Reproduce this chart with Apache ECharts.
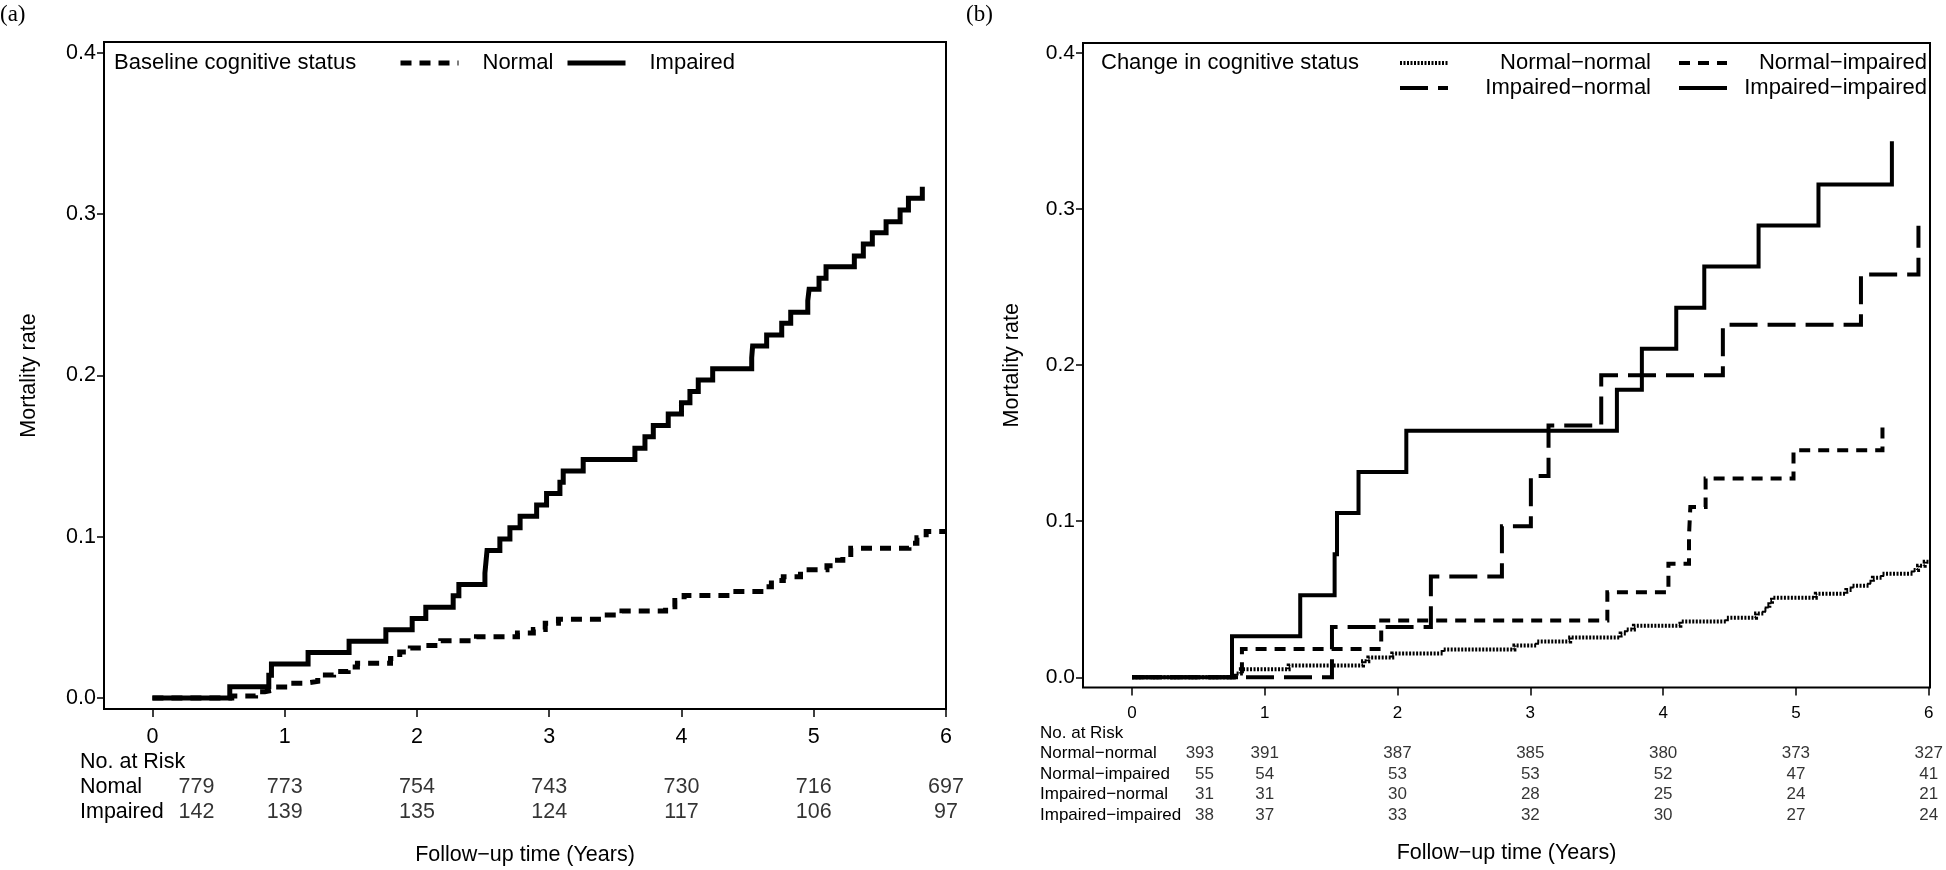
<!DOCTYPE html>
<html>
<head>
<meta charset="utf-8">
<script src="https://cdn.jsdelivr.net/npm/echarts@6/dist/echarts.min.js"></script>
<style>html,body{margin:0;padding:0;background:#fff;}#c{width:1946px;height:870px;}</style>
</head>
<body>
<div id="c"></div>
<script>
// ---------- DATA ----------
const xTicks = [0, 1, 2, 3, 4, 5, 6];
const yTicks = [0, 0.1, 0.2, 0.3, 0.4];

// Panel (a): baseline cognitive status
const aNormalT = [0, 0.60, 0.78, 0.85, 0.92, 1.02, 1.15, 1.25, 1.37, 1.48, 1.55, 1.80, 1.87, 1.95, 2.05, 2.18, 2.45, 2.76, 2.88, 2.97, 3.07, 3.40, 3.55, 3.88, 3.95, 4.02, 4.38, 4.62, 4.68, 4.77, 4.90, 5.10, 5.18, 5.22, 5.28, 5.72, 5.78, 5.85, 6.0];
const aNormalV = [0, 0.0013, 0.0039, 0.0051, 0.0068, 0.0092, 0.0103, 0.0142, 0.0165, 0.0193, 0.0215, 0.0245, 0.0285, 0.0310, 0.0325, 0.0355, 0.0380, 0.0403, 0.0425, 0.0463, 0.0489, 0.0515, 0.0540, 0.0566, 0.0605, 0.0635, 0.0660, 0.0690, 0.0728, 0.0752, 0.0795, 0.0820, 0.0855, 0.0890, 0.0929, 0.0960, 0.0994, 0.1033, 0.1033];
const aImpairedT = [0, 0.585, 0.88, 0.90, 1.177, 1.487, 1.765, 1.964, 2.067, 2.274, 2.317, 2.514, 2.522, 2.53, 2.627, 2.703, 2.78, 2.905, 2.98, 3.081, 3.106, 3.257, 3.648, 3.724, 3.787, 3.90, 4.00, 4.064, 4.127, 4.236, 4.531, 4.538, 4.644, 4.758, 4.826, 4.955, 4.965, 5.04, 5.093, 5.307, 5.375, 5.443, 5.547, 5.653, 5.716, 5.821];
const aImpairedV = [0, 0.0070, 0.0141, 0.0211, 0.0282, 0.0352, 0.0423, 0.0493, 0.0563, 0.0634, 0.0704, 0.0775, 0.0845, 0.0915, 0.0986, 0.1056, 0.1127, 0.1197, 0.1268, 0.1338, 0.1408, 0.1479, 0.1549, 0.1620, 0.1690, 0.1761, 0.1831, 0.1901, 0.1972, 0.2042, 0.2110, 0.2183, 0.2251, 0.2324, 0.2392, 0.2464, 0.2535, 0.2603, 0.2675, 0.2741, 0.2816, 0.2886, 0.2954, 0.3026, 0.3099, 0.3171];

// Panel (b): change in cognitive status
const bNNT = [0, 0.78, 0.82, 1.18, 1.74, 1.78, 1.96, 2.34, 2.88, 3.05, 3.30, 3.68, 3.72, 3.78, 4.13, 4.48, 4.70, 4.76, 4.78, 4.80, 4.82, 5.15, 5.38, 5.42, 5.55, 5.58, 5.65, 5.88, 5.92, 5.97, 6.0];
const bNNV = [0, 0.0025, 0.0051, 0.0076, 0.0102, 0.0127, 0.0153, 0.0178, 0.0204, 0.0229, 0.0255, 0.0280, 0.0306, 0.0331, 0.0357, 0.0382, 0.0408, 0.0433, 0.0459, 0.0484, 0.0510, 0.0535, 0.0560, 0.0586, 0.0612, 0.0637, 0.0663, 0.0688, 0.0714, 0.0740, 0.0740];
const bNIT = [0, 0.828, 1.877, 3.58, 4.04, 4.195, 4.205, 4.32, 4.982, 5.652];
const bNIV = [0, 0.0182, 0.0364, 0.0545, 0.0727, 0.0909, 0.1091, 0.1273, 0.1455, 0.1606];
const bINT = [0, 1.506, 2.251, 2.786, 3.004, 3.137, 3.534, 4.45, 5.49, 5.923];
const bINV = [0, 0.0323, 0.0645, 0.0968, 0.1290, 0.1613, 0.1935, 0.2258, 0.2581, 0.2893];
const bIIT = [0, 0.753, 1.267, 1.526, 1.544, 1.706, 2.066, 3.652, 3.84, 4.099, 4.31, 4.719, 5.17, 5.723];
const bIIV = [0, 0.0263, 0.0526, 0.0789, 0.1053, 0.1316, 0.1579, 0.1842, 0.2105, 0.2368, 0.2632, 0.2895, 0.3158, 0.3435];

// Numbers at risk
const riskTimes = [0, 1, 2, 3, 4, 5, 6];
const riskHeader = 'No. at Risk';
const aRowNames = ['Nomal', 'Impaired'];
const aRisk = [[779, 773, 754, 743, 730, 716, 697], [142, 139, 135, 124, 117, 106, 97]];
const bRowNames = ['Normal\u2212normal', 'Normal\u2212impaired', 'Impaired\u2212normal', 'Impaired\u2212impaired'];
const bRisk = [[393, 391, 387, 385, 380, 373, 327], [55, 54, 53, 53, 52, 47, 41], [31, 31, 30, 28, 25, 24, 21], [38, 37, 33, 32, 30, 27, 24]];

const aSeriesNames = ['Normal', 'Impaired'];
const xTitle = 'Follow\u2212up time (Years)';
const yTitle = 'Mortality rate';

// ---------- BUILD ----------
const FONT = '"Liberation Sans", Arial, Helvetica, sans-serif';
const zip = (t, v) => t.map((x, i) => [x, v[i]]);

const styleA = { normal: { width: 5, type: [11, 8] }, impaired: { width: 5, type: 'solid' } };
const styleB = [
  { width: 4, type: [2, 1.5] },
  { width: 4, type: [11, 8] },
  { width: 4, type: [28, 10] },
  { width: 4, type: 'solid' }
];

function riskSeries(xi, yi, rows, names, fs, firstOffset) {
  const first = [], rest = [];
  rows.forEach((r, ri) => r.forEach((n, ci) => {
    const pt = [riskTimes[ci], names[ri], n];
    (ci === 0 ? first : rest).push(pt);
  }));
  const base = {
    type: 'scatter', xAxisIndex: xi, yAxisIndex: yi, symbolSize: 1, silent: true,
    itemStyle: { color: 'rgba(0,0,0,0)' }
  };
  return [
    Object.assign({}, base, { name: 'risk0_' + xi, data: first,
      label: { show: true, position: 'inside', align: 'right', offset: [firstOffset, 0], formatter: p => p.value[2], color: '#000', fontSize: fs, fontFamily: FONT } }),
    Object.assign({}, base, { name: 'risk_' + xi, data: rest,
      label: { show: true, position: 'inside', align: 'center', formatter: p => p.value[2], color: '#000', fontSize: fs, fontFamily: FONT } })
  ];
}

function mainX(gi, min, max, fs, nameGap) {
  return {
    gridIndex: gi, type: 'value', min: min, max: max,
    axisLine: { show: false, onZero: false },
    axisTick: { show: true, customValues: xTicks, length: 8, lineStyle: { color: '#000', width: 1.5 } },
    axisLabel: { show: true, customValues: xTicks, margin: 17, color: '#000', fontSize: fs, fontFamily: FONT },
    splitLine: { show: false },
    name: xTitle, nameLocation: 'middle', nameGap: nameGap,
    nameTextStyle: { color: '#000', fontSize: 21.5, fontFamily: FONT }
  };
}
function hiddenX(gi, min, max) {
  return { gridIndex: gi, type: 'value', min: min, max: max, show: false, axisLine: { onZero: false } };
}
function mainY(gi, min, max, fs, nameGap) {
  return {
    gridIndex: gi, type: 'value', min: min, max: max,
    axisLine: { show: false, onZero: false },
    axisTick: { show: true, customValues: yTicks, length: 7, lineStyle: { color: '#000', width: 1.5 } },
    axisLabel: { show: true, customValues: yTicks, margin: 8, color: '#000', fontSize: fs, fontFamily: FONT, formatter: v => v.toFixed(1) },
    splitLine: { show: false },
    name: yTitle, nameLocation: 'middle', nameGap: nameGap, nameRotate: 90,
    nameTextStyle: { color: '#000', fontSize: 21.5, fontFamily: FONT }
  };
}
function tableY(gi, names, fs, margin) {
  return {
    gridIndex: gi, type: 'category', data: [riskHeader].concat(names), inverse: true,
    axisLine: { show: false, onZero: false }, axisTick: { show: false }, splitLine: { show: false },
    axisLabel: { show: true, align: 'left', margin: margin, color: '#000', fontSize: fs, fontFamily: FONT, interval: 0 }
  };
}

function lineSeries(name, xi, yi, t, v, st) {
  return {
    name: name, type: 'line', xAxisIndex: xi, yAxisIndex: yi, step: 'end',
    symbol: 'circle', showSymbol: false, silent: true, data: zip(t, v),
    lineStyle: { color: '#000', width: st.width, type: st.type, cap: 'butt', join: 'miter' },
    itemStyle: { color: '#000' }
  };
}

const legendText = { color: '#000', fontSize: 22, fontFamily: FONT };
function legendA(name, left, st) {
  return {
    data: [name], left: left, top: 52, orient: 'horizontal', padding: 0,
    itemWidth: 58, itemHeight: 22, selectedMode: false,
    itemStyle: { opacity: 0 },
    lineStyle: { color: '#000', width: st.width, type: st.type, cap: 'butt' },
    formatter: n => '{t|' + n + '}',
    textStyle: Object.assign({}, legendText, { rich: { t: Object.assign({ padding: [0, 0, 0, 19] }, legendText) } })
  };
}
function legendB(name, left, top, textW, st) {
  return {
    data: [name], left: left, top: top, orient: 'horizontal', padding: 0,
    itemWidth: 48, itemHeight: 22, selectedMode: false,
    itemStyle: { opacity: 0 },
    lineStyle: { color: '#000', width: st.width, type: st.type, cap: 'butt' },
    formatter: n => '{r|' + n + '}',
    textStyle: Object.assign({}, legendText, { rich: { r: Object.assign({ width: textW, align: 'right' }, legendText) } })
  };
}

const titleStyle = { color: '#000', fontSize: 22, fontWeight: 'normal', fontFamily: FONT };
const serifStyle = { color: '#000', fontSize: 23, fontWeight: 'normal', fontFamily: '"Liberation Serif", "Times New Roman", serif' };
const option = {
  backgroundColor: '#fff',
  animation: false,
  title: [
    { text: '(a)', left: 0, top: 3, padding: 0, textStyle: serifStyle },
    { text: '(b)', left: 966, top: 3, padding: 0, textStyle: serifStyle },
    { text: 'Baseline cognitive status', left: 114, top: 52, padding: 0, textStyle: titleStyle },
    { text: 'Change in cognitive status', left: 1101, top: 52, padding: 0, textStyle: titleStyle }
  ],
  legend: [
    legendA(aSeriesNames[0], 398, styleA.normal),
    legendA(aSeriesNames[1], 565, styleA.impaired),
    legendB(bRowNames[0], 1398, 52, 198, styleB[0]),
    legendB(bRowNames[1], 1677, 52, 195, styleB[1]),
    legendB(bRowNames[2], 1398, 77, 198, styleB[2]),
    legendB(bRowNames[3], 1677, 77, 195, styleB[3])
  ],
  grid: [
    { left: 104, top: 42, width: 842, height: 667, show: true, borderColor: '#000', borderWidth: 2, backgroundColor: 'rgba(0,0,0,0)', outerBoundsMode: 'none' },
    { left: 104, top: 749, width: 842, height: 76, outerBoundsMode: 'none' },
    { left: 1083, top: 43, width: 847, height: 644.5, show: true, borderColor: '#000', borderWidth: 2, backgroundColor: 'rgba(0,0,0,0)', outerBoundsMode: 'none' },
    { left: 1083, top: 722.75, width: 847, height: 102.5, outerBoundsMode: 'none' }
  ],
  xAxis: [
    mainX(0, -0.366, 6.0, 21.5, 135),
    hiddenX(1, -0.366, 6.0),
    mainX(2, -0.369, 6.01, 17, 155),
    hiddenX(3, -0.369, 6.01)
  ],
  yAxis: [
    mainY(0, -0.00682, 0.40682, 21.5, 64),
    tableY(1, aRowNames, 21.5, 24),
    mainY(2, -0.00654, 0.4064, 21, 60),
    tableY(3, bRowNames, 17, 43)
  ],
  series: [
    lineSeries(aSeriesNames[0], 0, 0, aNormalT, aNormalV, styleA.normal),
    lineSeries(aSeriesNames[1], 0, 0, aImpairedT, aImpairedV, styleA.impaired),
    lineSeries(bRowNames[0], 2, 2, bNNT, bNNV, styleB[0]),
    lineSeries(bRowNames[1], 2, 2, bNIT, bNIV, styleB[1]),
    lineSeries(bRowNames[2], 2, 2, bINT, bINV, styleB[2]),
    lineSeries(bRowNames[3], 2, 2, bIIT, bIIV, styleB[3])
  ].concat(riskSeries(1, 1, aRisk, aRowNames, 21.5, 62))
   .concat(riskSeries(3, 3, bRisk, bRowNames, 17, 82))
};

const chart = echarts.init(document.getElementById('c'), null, { renderer: 'canvas' });
chart.setOption(option);
</script>
</body>
</html>
